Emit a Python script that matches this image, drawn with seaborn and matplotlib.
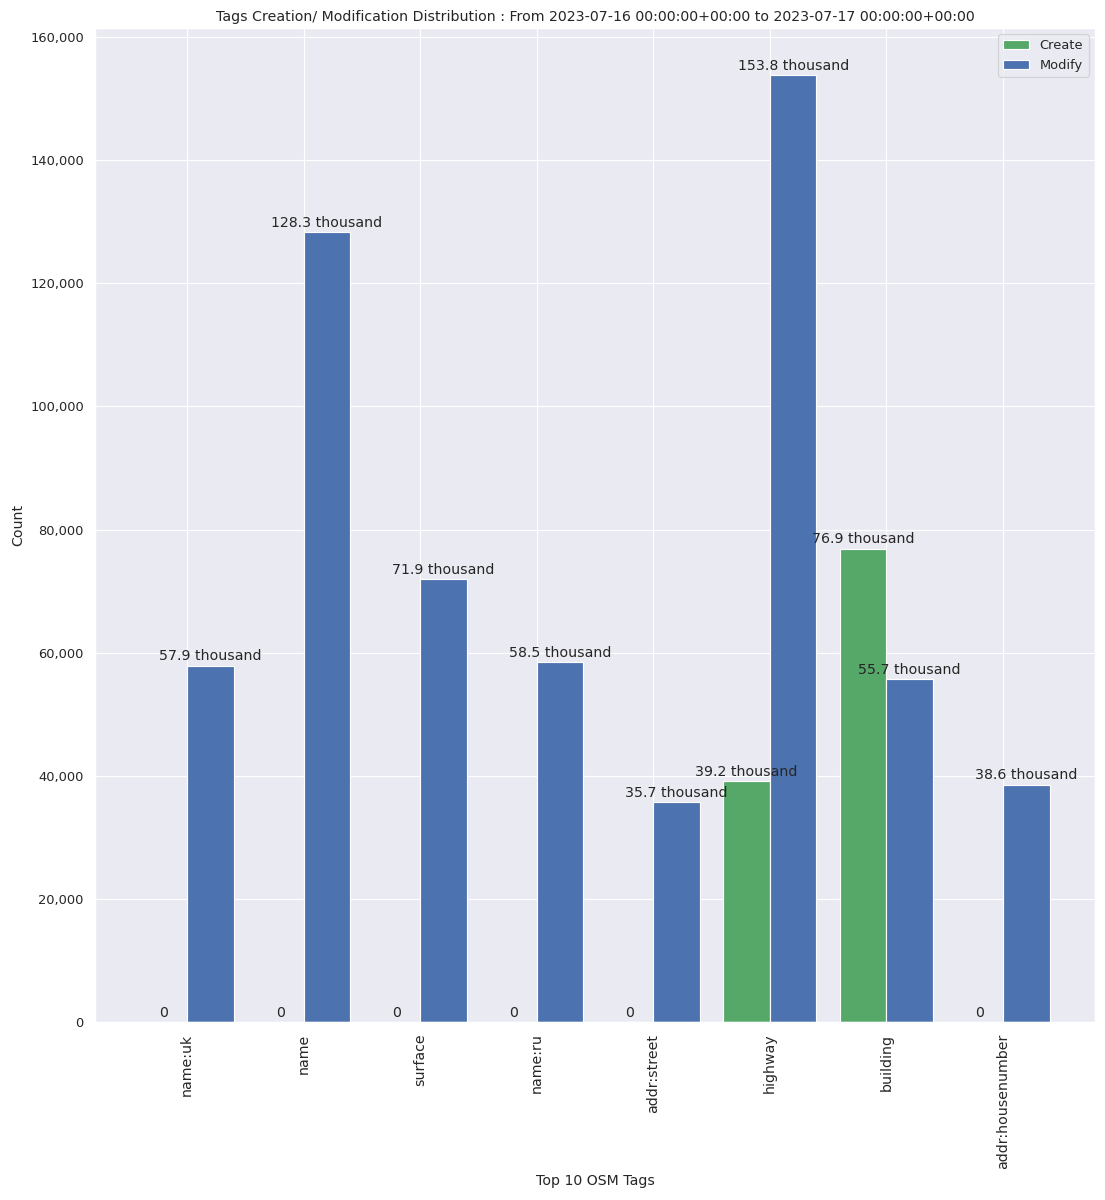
import pandas as pd
import matplotlib
import matplotlib.pyplot as plt
import matplotlib.ticker as mticker
import seaborn as sns

matplotlib.use("Agg")
sns.set_theme(style="darkgrid")

tags = ["name:uk", "name", "surface", "name:ru", "addr:street",
        "highway", "building", "addr:housenumber"]
create = [0, 0, 0, 0, 0, 39200, 76900, 0]
modify = [57900, 128300, 71900, 58500, 35700, 153800, 55700, 38600]

df = pd.DataFrame({"Tag": tags, "Create": create, "Modify": modify})
long_df = df.melt(id_vars="Tag", var_name="Type", value_name="Count")

# drawn big and at a low dpi so it comes out at 1105x1200
fig, ax = plt.subplots(figsize=(13, 1200 / 85), dpi=85)
fig.subplots_adjust(left=0.086, right=0.991, top=0.977, bottom=0.148)

sns.barplot(data=long_df, x="Tag", y="Count", hue="Type",
            palette={"Create": "#55a868", "Modify": "#4c72b0"},
            saturation=1, edgecolor="white", linewidth=1, ax=ax)

# seaborn turns these off for categorical axes, the reference has them
ax.xaxis.grid(True)
ax.autoscale(enable=True, axis="x")


def fmt(v):
    if v == 0:
        return "0"
    return f"{v / 1000:.1f} thousand"


for cont, vals in zip(ax.containers, [create, modify]):
    ax.bar_label(cont, labels=[fmt(v) for v in vals], padding=2, fontsize=12)

ax.yaxis.set_major_formatter(mticker.FuncFormatter(lambda v, p: f"{int(v):,}"))
ax.tick_params(axis="x", labelrotation=90, labelsize=12)
ax.tick_params(axis="y", labelsize=11)
ax.set_xlabel("Top 10 OSM Tags", fontsize=12)
ax.set_ylabel("Count", fontsize=12)
ax.set_title("Tags Creation/ Modification Distribution : From 2023-07-16 00:00:00+00:00 "
             "to 2023-07-17 00:00:00+00:00", fontsize=12)
ax.legend(title=None, loc="upper right", fontsize=11)

fig.savefig("out.png", dpi=85)
